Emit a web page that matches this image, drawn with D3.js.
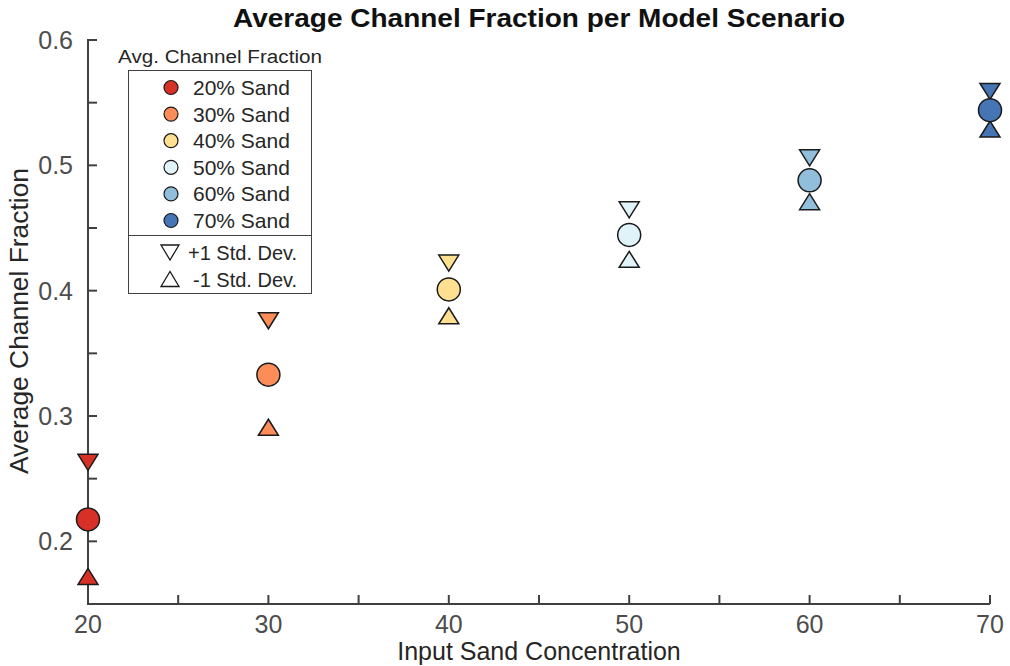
<!DOCTYPE html>
<html>
<head>
<meta charset="utf-8">
<script src="https://cdn.jsdelivr.net/npm/d3@7"></script>
<style>
  body { margin: 0; background: #fff; }
  svg { font-family: "Liberation Sans", Arial, Helvetica, sans-serif; }
</style>
</head>
<body>
<svg id="chart" width="1010" height="666"></svg>
<script>
// Scenario data: input sand concentration and average channel fraction
const sand = [20, 30, 40, 50, 60, 70];
const meanFrac = [0.2175, 0.333, 0.401, 0.4445, 0.488, 0.544];
const plusStd = [0.263, 0.376, 0.422, 0.4645, 0.506, 0.559];
const minusStd = [0.172, 0.291, 0.380, 0.425, 0.471, 0.529];
const colors = ["#d73027", "#fc8d59", "#fee090", "#e0f3f8", "#91bfdb", "#4575b4"];
const legendLabels = ["20% Sand", "30% Sand", "40% Sand", "50% Sand", "60% Sand", "70% Sand"];
const xTicks = [20, 30, 40, 50, 60, 70];
const xMinor = [25, 35, 45, 55, 65];
const yTicks = [0.2, 0.3, 0.4, 0.5, 0.6];
const yMinor = [0.25, 0.35, 0.45, 0.55];

const svg = d3.select("#chart");
const axisColor = "#404040";
const tickTextColor = "#4d4d4d";
const labelColor = "#262626";

const x = d3.scaleLinear().domain([20, 70]).range([88, 990]);
const y = d3.scaleLinear().domain([0.15, 0.6]).range([604, 40]);

// Axes (ticks point inward, no box)
const gx = svg.append("g").attr("transform", `translate(0,${y.range()[0]})`);
gx.append("line").attr("x1", x.range()[0] - 1).attr("x2", x.range()[1])
  .attr("stroke", axisColor).attr("stroke-width", 2);
gx.selectAll("line.tick").data(xTicks.concat(xMinor)).join("line")
  .attr("class", "tick")
  .attr("x1", d => x(d)).attr("x2", d => x(d))
  .attr("y1", 0).attr("y2", -9)
  .attr("stroke", axisColor).attr("stroke-width", 2);
gx.selectAll("text").data(xTicks).join("text")
  .attr("x", d => x(d)).attr("y", 29)
  .attr("text-anchor", "middle")
  .attr("font-size", 25).attr("fill", tickTextColor)
  .text(d => d);

const gy = svg.append("g").attr("transform", `translate(${x.range()[0]},0)`);
gy.append("line").attr("y1", y.range()[0] + 1).attr("y2", y.range()[1])
  .attr("stroke", axisColor).attr("stroke-width", 2);
gy.selectAll("line.tick").data(yTicks.concat(yMinor)).join("line")
  .attr("class", "tick")
  .attr("y1", d => y(d)).attr("y2", d => y(d))
  .attr("x1", -1).attr("x2", 9)
  .attr("stroke", axisColor).attr("stroke-width", 2);
gy.selectAll("text").data(yTicks).join("text")
  .attr("x", -15).attr("y", d => y(d) + 9)
  .attr("text-anchor", "end")
  .attr("font-size", 25).attr("fill", tickTextColor)
  .text(d => d3.format(".1f")(d));

// Axis titles and chart title
svg.append("text").attr("x", 539).attr("y", 660)
  .attr("text-anchor", "middle").attr("font-size", 25).attr("fill", labelColor)
  .text("Input Sand Concentration");
svg.append("text").attr("transform", "translate(28,321) rotate(-90)")
  .attr("text-anchor", "middle").attr("font-size", 25).attr("fill", labelColor)
  .attr("textLength", 306).attr("lengthAdjust", "spacingAndGlyphs")
  .text("Average Channel Fraction");
svg.append("text").attr("x", 539).attr("y", 27)
  .attr("text-anchor", "middle").attr("font-size", 25).attr("font-weight", "bold")
  .attr("textLength", 612).attr("lengthAdjust", "spacingAndGlyphs")
  .attr("fill", "#111").text("Average Channel Fraction per Model Scenario");

// Marker shapes
const triDown = (cx, cy, w, h) =>
  `M${cx - w / 2},${cy - h / 2}L${cx + w / 2},${cy - h / 2}L${cx},${cy + h / 2}Z`;
const triUp = (cx, cy, w, h) =>
  `M${cx - w / 2},${cy + h / 2}L${cx + w / 2},${cy + h / 2}L${cx},${cy - h / 2}Z`;

const pts = sand.map((s, i) => ({ s, m: meanFrac[i], p: plusStd[i], n: minusStd[i], c: colors[i] }));
const marks = svg.append("g");
marks.selectAll("path.plus").data(pts).join("path").attr("class", "plus")
  .attr("d", d => triDown(x(d.s), y(d.p), 20, 16))
  .attr("fill", d => d.c).attr("stroke", "#1a1a1a").attr("stroke-width", 1.5);
marks.selectAll("path.minus").data(pts).join("path").attr("class", "minus")
  .attr("d", d => triUp(x(d.s), y(d.n), 20, 16))
  .attr("fill", d => d.c).attr("stroke", "#1a1a1a").attr("stroke-width", 1.5);
marks.selectAll("circle").data(pts).join("circle")
  .attr("cx", d => x(d.s)).attr("cy", d => y(d.m)).attr("r", 11.5)
  .attr("fill", d => d.c).attr("stroke", "#1a1a1a").attr("stroke-width", 1.5);

// Legend
const lg = svg.append("g");
lg.append("text").attr("x", 220).attr("y", 63).attr("text-anchor", "middle")
  .attr("font-size", 18).attr("fill", labelColor)
  .attr("textLength", 204).attr("lengthAdjust", "spacingAndGlyphs")
  .text("Avg. Channel Fraction");
lg.append("rect").attr("x", 128.5).attr("y", 70.5).attr("width", 183).attr("height", 223)
  .attr("fill", "#fff").attr("stroke", "#404040").attr("stroke-width", 1);
lg.append("line").attr("x1", 128.5).attr("x2", 311.5).attr("y1", 235.5).attr("y2", 235.5)
  .attr("stroke", "#404040").attr("stroke-width", 1);
const rowY = i => 87.5 + i * 26.6;
lg.selectAll("circle").data(colors).join("circle")
  .attr("cx", 171).attr("cy", (d, i) => rowY(i)).attr("r", 7)
  .attr("fill", d => d).attr("stroke", "#1a1a1a").attr("stroke-width", 1.2);
lg.selectAll("text.entry").data(legendLabels).join("text").attr("class", "entry")
  .attr("x", 193).attr("y", (d, i) => rowY(i) + 7.5)
  .attr("font-size", 21).attr("fill", labelColor).text(d => d);
lg.append("path").attr("d", triDown(170, 252.5, 18, 15))
  .attr("fill", "none").attr("stroke", "#1a1a1a").attr("stroke-width", 1.3);
lg.append("path").attr("d", triUp(170, 279, 18, 15))
  .attr("fill", "none").attr("stroke", "#1a1a1a").attr("stroke-width", 1.3);
lg.append("text").attr("x", 188).attr("y", 260).attr("font-size", 20)
  .attr("fill", labelColor).text("+1 Std. Dev.");
lg.append("text").attr("x", 193).attr("y", 286.5).attr("font-size", 20)
  .attr("fill", labelColor).text("-1 Std. Dev.");
</script>
</body>
</html>
